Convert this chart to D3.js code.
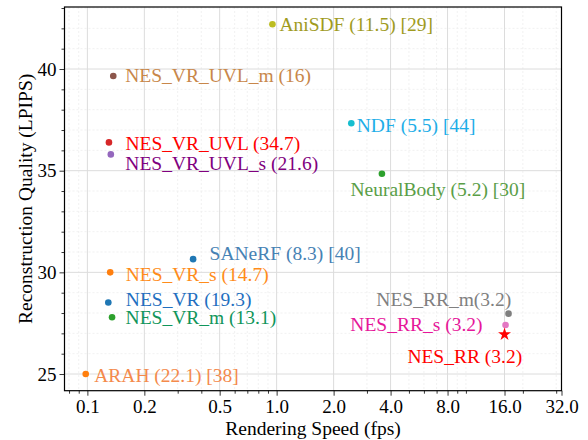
<!DOCTYPE html>
<html>
<head>
<meta charset="utf-8">
<script src="https://cdn.jsdelivr.net/npm/d3@7"></script>
<style>
  body { margin: 0; background: #fff; }
</style>
</head>
<body>
<svg id="chart" width="588" height="440"></svg>
<script>
// data
let methods = ["AniSDF", "NES_VR_UVL_m", "NES_VR_UVL", "NES_VR_UVL_s", "NDF", "NeuralBody",
    "SANeRF", "NES_VR_s", "NES_VR", "NES_VR_m", "ARAH", "NES_RR_m", "NES_RR_s", "NES_RR"];
let fps = [0.95, 0.137, 0.130, 0.133, 2.48, 3.6, 0.362, 0.132, 0.129, 0.135, 0.098, 16.8, 16.2, 16.0];
let quality = [42.2, 39.66, 36.39, 35.8, 37.33, 34.85, 30.65, 30.0, 28.52, 27.79, 25.0, 27.97, 27.41, 26.95];
let labels = ["AniSDF (11.5) [29]", "NES_VR_UVL_m (16)", "NES_VR_UVL (34.7)", "NES_VR_UVL_s (21.6)",
    "NDF (5.5) [44]", "NeuralBody (5.2) [30]", "SANeRF (8.3) [40]", "NES_VR_s (14.7)",
    "NES_VR (19.3)", "NES_VR_m (13.1)", "ARAH (22.1) [38]", "NES_RR_m(3.2)", "NES_RR_s (3.2)", "NES_RR (3.2)"];
let xTicks = [0.1, 0.2, 0.5, 1, 2, 4, 8, 16, 32];
let yTicks = [25, 30, 35, 40];

// styles
let font = "'Liberation Serif', 'DejaVu Serif', serif";
let pointColors = ["#bcbd22", "#8c564b", "#d62728", "#9467bd", "#17becf", "#2ca02c", "#1f77b4",
    "#ff7f0e", "#1f77b4", "#2ca02c", "#ff7f0e", "#7f7f7f", "#e377c2", "#ff0000"];
let labelColors = ["#a09b1e", "#c8874a", "#ff0000", "#800080", "#1eaee8", "#5a9e47", "#4682b4",
    "#ff8c1a", "#1f6fc0", "#10955a", "#f48a4c", "#808080", "#e6179a", "#ff0000"];
// label offsets from the point in px: [dx, dy, anchor]
let labelPos = [[7, 0, "start"], [12, 0, "start"], [16.5, 1, "start"], [14.5, 9, "start"],
    [5.5, 2.5, "start"], [-31.5, 16, "start"], [16.5, -5.5, "start"], [15.5, 2, "start"],
    [17.5, -3.3, "start"], [13.5, 0, "start"], [8.5, 1.5, "start"], [2.7, -14.5, "end"],
    [-23, -0.7, "end"], [17.7, 21.7, "end"]];

let svg = d3.select("#chart").attr("font-family", font);
let pLeft = 64.5, pRight = 561.5, pTop = 7, pBottom = 390.7;

let x = d3.scaleLog().base(2).domain([0.0757, 32]).range([pLeft, pRight]);
let y = d3.scaleLinear().domain([24.18, 43.05]).range([pBottom, pTop]);

let xMinor = [];
for (let e = -2; e <= 1; e++) {
    for (let k = 1; k <= 9; k++) {
        let v = +(k * Math.pow(10, e)).toPrecision(3);
        if (v >= 0.0757 && v <= 32 && !xTicks.some(t => Math.abs(t - v) < 1e-9)) xMinor.push(v);
    }
}
let yMinor = d3.range(25, 44).filter(v => v % 5 !== 0);

// grid
let grid = svg.append("g");
grid.selectAll(".gxm").data(xMinor).enter().append("line")
    .attr("x1", d => x(d)).attr("x2", d => x(d)).attr("y1", pTop).attr("y2", pBottom)
    .attr("stroke", "#eeeeee").attr("stroke-dasharray", "2,2").attr("stroke-width", 0.8);
grid.selectAll(".gym").data(yMinor).enter().append("line")
    .attr("x1", pLeft).attr("x2", pRight).attr("y1", d => y(d)).attr("y2", d => y(d))
    .attr("stroke", "#eeeeee").attr("stroke-dasharray", "2,2").attr("stroke-width", 0.8);
grid.selectAll(".gx").data(xTicks).enter().append("line")
    .attr("x1", d => x(d)).attr("x2", d => x(d)).attr("y1", pTop).attr("y2", pBottom)
    .attr("stroke", "#dcdcdc").attr("stroke-width", 1);
grid.selectAll(".gy").data(yTicks).enter().append("line")
    .attr("x1", pLeft).attr("x2", pRight).attr("y1", d => y(d)).attr("y2", d => y(d))
    .attr("stroke", "#dcdcdc").attr("stroke-width", 1);

// axes
let axes = [
    svg.append("g").attr("transform", `translate(0,${pBottom})`)
        .call(d3.axisBottom(x).tickValues(xTicks).tickFormat(d3.format(".1f")).tickSize(5).tickPadding(4)),
    svg.append("g").attr("transform", `translate(0,${pBottom})`)
        .call(d3.axisBottom(x).tickValues(xMinor).tickFormat("").tickSize(3)),
    svg.append("g").attr("transform", `translate(${pLeft},0)`)
        .call(d3.axisLeft(y).tickValues(yTicks).tickSize(5).tickPadding(3)),
    svg.append("g").attr("transform", `translate(${pLeft},0)`)
        .call(d3.axisLeft(y).tickValues(yMinor).tickFormat("").tickSize(3))
];
axes.forEach(a => a.attr("font-family", font).attr("font-size", 19));
svg.selectAll(".domain").remove();
svg.selectAll(".tick line").attr("stroke", "#000").attr("stroke-width", 0.8);
svg.selectAll(".tick text").attr("fill", "#000");

svg.append("rect").attr("x", pLeft).attr("y", pTop)
    .attr("width", pRight - pLeft).attr("height", pBottom - pTop)
    .attr("fill", "none").attr("stroke", "#000").attr("stroke-width", 1.2);

svg.append("text").attr("x", (pLeft + pRight) / 2).attr("y", 428)
    .attr("text-anchor", "middle").attr("dominant-baseline", "central")
    .attr("font-size", 19.5).text("Rendering Speed (fps)");
svg.append("text").attr("transform", `translate(25,${(pTop + pBottom) / 2}) rotate(-90)`)
    .attr("text-anchor", "middle").attr("dominant-baseline", "central")
    .attr("font-size", 19.5).text("Reconstruction Quality (LPIPS)");

// points
let idx = d3.range(methods.length);
let marks = svg.append("g");
marks.selectAll("circle").data(idx.filter(i => methods[i] !== "NES_RR")).enter().append("circle")
    .attr("cx", i => x(fps[i])).attr("cy", i => y(quality[i])).attr("r", 3.3)
    .attr("fill", i => pointColors[i]);
marks.selectAll("path").data(idx.filter(i => methods[i] === "NES_RR")).enter().append("path")
    .attr("d", d3.symbol().type(d3.symbolStar).size(52))
    .attr("transform", i => `translate(${x(fps[i])},${y(quality[i])})`)
    .attr("fill", i => pointColors[i]);

marks.selectAll("text").data(idx).enter().append("text")
    .attr("x", i => x(fps[i]) + labelPos[i][0])
    .attr("y", i => y(quality[i]) + labelPos[i][1])
    .attr("text-anchor", i => labelPos[i][2])
    .attr("dominant-baseline", "central")
    .attr("fill", i => labelColors[i])
    .attr("font-size", 19.5)
    .text(i => labels[i]);
</script>
</body>
</html>
